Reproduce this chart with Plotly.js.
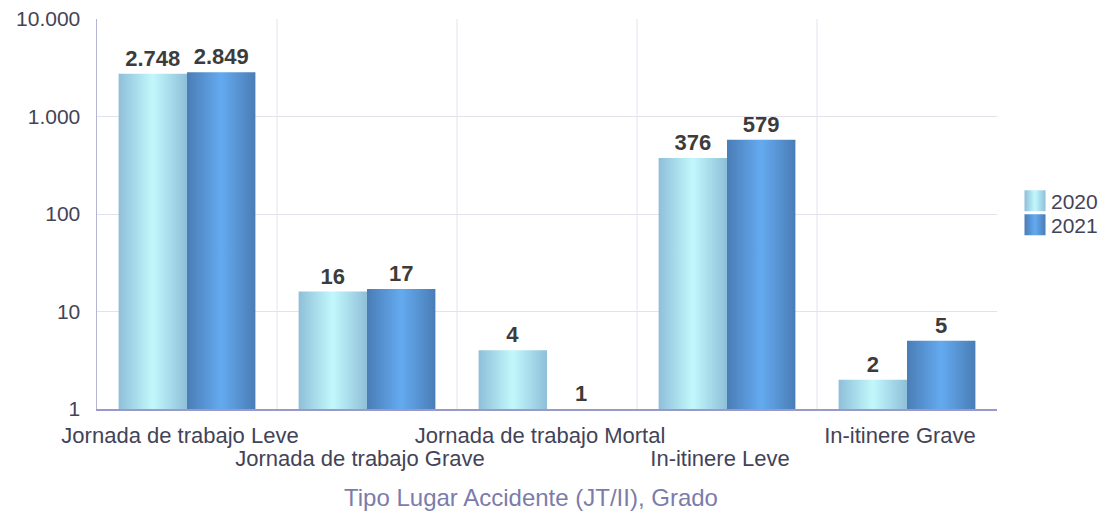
<!DOCTYPE html>
<html>
<head>
<meta charset="utf-8">
<script src="https://cdn.plot.ly/plotly-3.0.1.min.js"></script>
<style>
html,body{margin:0;padding:0;background:#fff;}
#chart{width:1103px;height:515px;}
</style>
</head>
<body>
<div id="chart"></div>
<script>
const categories = ["Jornada de trabajo Leve","Jornada de trabajo Grave","Jornada de trabajo Mortal","In-itinere Leve","In-itinere Grave"];
const values2020 = [2748, 16, 4, 376, 2];
const values2021 = [2849, 17, 1, 579, 5];
const seriesNames = ["2020","2021"];
const yTickVals = [1, 10, 100, 1000, 10000];
const yTickText = ["1","10","100","1.000","10.000"];
const xTitle = "Tipo Lugar Accidente (JT/II), Grado";

function fmt(v){ return String(v).replace(/\B(?=(\d{3})+(?!\d))/g, "."); }
const tickText = categories.map((c,i)=> i%2===1 ? "<br>"+c : c);

const FONT = "Liberation Sans, Arial, sans-serif";
const textFont = {family:FONT, size:22, color:"#3c3c3c"};

const traces = [
  {type:"bar", name:seriesNames[0], x:categories, y:values2020, text:values2020.map(v=>"<b>"+fmt(v)+"</b>"),
   textposition:"outside", textfont:textFont, cliponaxis:false, marker:{color:"#a8e0ec"}, hoverinfo:"none"},
  {type:"bar", name:seriesNames[1], x:categories, y:values2021, text:values2021.map(v=>"<b>"+fmt(v)+"</b>"),
   textposition:"outside", textfont:textFont, cliponaxis:false, marker:{color:"#5596d8"}, hoverinfo:"none"}
];

const layout = {
  width:1103, height:515,
  margin:{l:97, r:106, t:19, b:106},
  paper_bgcolor:"#ffffff", plot_bgcolor:"#ffffff",
  font:{family:FONT, size:21, color:"#434358"},
  barmode:"group", bargap:0.24, bargroupgap:0,
  showlegend:true,
  legend:{x:1.0, y:0.5, xanchor:"left", yanchor:"middle", font:{size:21, color:"#434358"}, tracegroupgap:0, itemwidth:30},
  xaxis:{type:"category", tickmode:"array", tickvals:categories, ticktext:tickText, showgrid:false, tickangle:0,
         showline:true, linecolor:"#9a9ac8", linewidth:1.5, ticks:"", tickfont:{size:22, color:"#434358"},
         ticklabelstandoff:6, ticklabelshift:-7},
  yaxis:{type:"log", range:[0,4], tickmode:"array", tickvals:yTickVals, ticktext:yTickText,
         showgrid:true, gridcolor:"#e2e2ee", gridwidth:1, showline:true, linecolor:"#b4b4d4", linewidth:1.5,
         ticks:"", ticklabelstandoff:11, tickfont:{size:21, color:"#434358"}, zeroline:false},
  annotations:[{text:xTitle, xref:"paper", yref:"paper", x:0.482, y:-0.228, xanchor:"center", yanchor:"middle",
         showarrow:false, font:{size:24, color:"#7c7caa"}}],
  shapes: [1,2,3,4].map(i=>({type:"line", xref:"x", yref:"paper", x0:i-0.5, x1:i-0.5, y0:0, y1:1,
          line:{color:"#e2e2ee", width:1}, layer:"below"}))
};

Plotly.newPlot("chart", traces, layout, {staticPlot:true, displayModeBar:false}).then(gd=>{
  const svg = gd.querySelector("svg.main-svg");
  const ns = "http://www.w3.org/2000/svg";
  let defs = svg.querySelector("defs");
  if(!defs){ defs = document.createElementNS(ns,"defs"); svg.insertBefore(defs, svg.firstChild); }
  const grads = {
    g2020:[["0%","#8fbfd9"],["50%","#c2f8fc"],["100%","#8fbfd9"]],
    g2021:[["0%","#4a7db6"],["50%","#64aaf0"],["100%","#4a7db6"]]
  };
  for(const id in grads){
    const lg = document.createElementNS(ns,"linearGradient");
    lg.setAttribute("id",id); lg.setAttribute("x1","0"); lg.setAttribute("x2","1"); lg.setAttribute("y1","0"); lg.setAttribute("y2","0");
    grads[id].forEach(([o,c])=>{ const s=document.createElementNS(ns,"stop"); s.setAttribute("offset",o); s.setAttribute("stop-color",c); lg.appendChild(s); });
    defs.appendChild(lg);
  }
  const ids = ["g2020","g2021"];
  gd.querySelectorAll(".barlayer .trace.bars").forEach((t,i)=>{
    t.querySelectorAll(".point path").forEach(p=>{ p.style.fill = "url(#"+ids[i]+")"; });
  });
  gd.querySelectorAll(".xtick text tspan.line").forEach(ts=>{
    if(ts.getAttribute("dy") && ts.getAttribute("dy").indexOf("em")>0 && parseFloat(ts.getAttribute("dy"))>0){
      ts.setAttribute("dy","1.05em");
    }
  });
  const items = gd.querySelectorAll(".legend .traces");
  let y0 = null;
  items.forEach((t,i)=>{
    t.querySelectorAll(".legendpoints path").forEach(p=>{
      p.setAttribute("d","M-10.5,-10.5H10.5V10.5H-10.5Z");
      p.style.fill = "url(#"+ids[i]+")"; p.style.stroke = "none";
    });
    t.querySelectorAll("text.legendtext").forEach(tx=>{ tx.setAttribute("x", String(parseFloat(tx.getAttribute("x"))-4)); });
    const m = /translate\(([-\d.]+)[ ,]+([-\d.]+)\)/.exec(t.getAttribute("transform")||"");
    if(m){
      if(y0===null) y0 = parseFloat(m[2]);
      t.setAttribute("transform","translate("+m[1]+","+(y0+i*24+2)+")");
    }
  });
  const leg = gd.querySelector("g.legend");
  if(leg){
    const m = /translate\(([-\d.]+)[ ,]+([-\d.]+)\)/.exec(leg.getAttribute("transform")||"");
    if(m){ leg.setAttribute("transform","translate("+(parseFloat(m[1])+18)+","+m[2]+")"); }
  }
});
</script>
</body>
</html>
